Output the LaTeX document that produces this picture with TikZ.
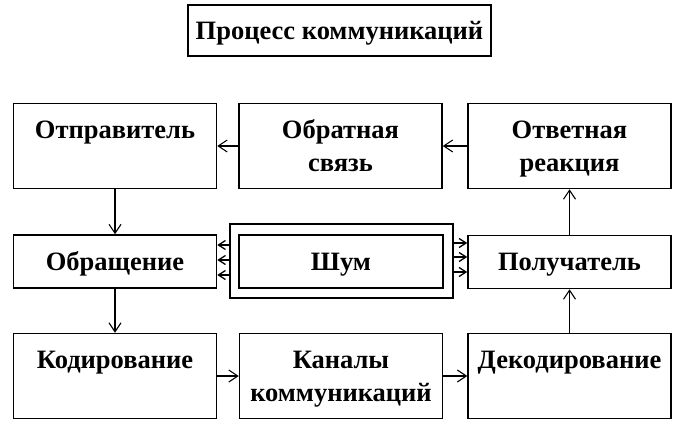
\documentclass[tikz,border=0pt]{standalone}
\usepackage{fontspec}
\setmainfont{Liberation Serif}
\usetikzlibrary{arrows.meta}

\begin{document}
\begin{tikzpicture}[x=1pt,y=-1pt,
  box/.style={draw,line width=1.5pt,inner sep=0pt,align=center,text depth=0pt,
    font=\bfseries\fontsize{26.5}{33}\selectfont},
  tallbox/.style={box,minimum width=203pt,minimum height=85pt},
  flatbox/.style={box,minimum width=203pt,minimum height=53pt},
  link/.style={-{Straight Barb[length=9pt,width=12pt]},line width=1.1pt},
  noiselink/.style={-{Straight Barb[length=7pt,width=9pt]},line width=1.3pt}]
\useasboundingbox (0,0) rectangle (694,444);
\node[box,minimum width=303pt,minimum height=51pt] (title) at (339.5,30.5) {Процесс коммуникаций};

\node[tallbox] (sender) at (115,146) {Отправитель\\\mbox{}};
\node[tallbox] (feedback) at (340.5,146) {Обратная\\связь};
\node[tallbox] (response) at (569.5,146) {Ответная\\реакция};

\node[flatbox] (message) at (115,261.5) {Обращение};
\node[draw,line width=1.5pt,minimum width=223pt,minimum height=74pt] (noiseframe) at (341.5,261) {};
\node[box,minimum width=204pt,minimum height=53pt] (noise) at (341,261.5) {Шум};
\node[flatbox] (receiver) at (569.5,262) {Получатель};

\node[tallbox] (encoding) at (115,376) {Кодирование\\\mbox{}};
\node[tallbox] (channel) at (341,376) {Каналы\\коммуникаций};
\node[tallbox] (decoding) at (569.5,376) {Декодирование\\\mbox{}};

\draw[link] (feedback.west) -- (sender.east);
\draw[link] (response.west) -- (feedback.east);
\draw[link] (sender.south) -- (message.north);
\draw[link] (message.south) -- (encoding.north);
\draw[link] (encoding.east) -- (channel.west);
\draw[link] (channel.east) -- (decoding.west);
\draw[link] (decoding.north) -- (receiver.south);
\draw[link] (receiver.north) -- (response.south);
\foreach \dy in {16,1,-14} {
  \draw[noiselink] ([yshift=\dy pt]noiseframe.west) -- ([yshift=\dy pt]noiseframe.west -| message.east);
}
\foreach \dy in {18,4,-11} {
  \draw[noiselink] ([yshift=\dy pt]noiseframe.east) -- ([yshift=\dy pt]noiseframe.east -| receiver.west);
}
\end{tikzpicture}
\end{document}
